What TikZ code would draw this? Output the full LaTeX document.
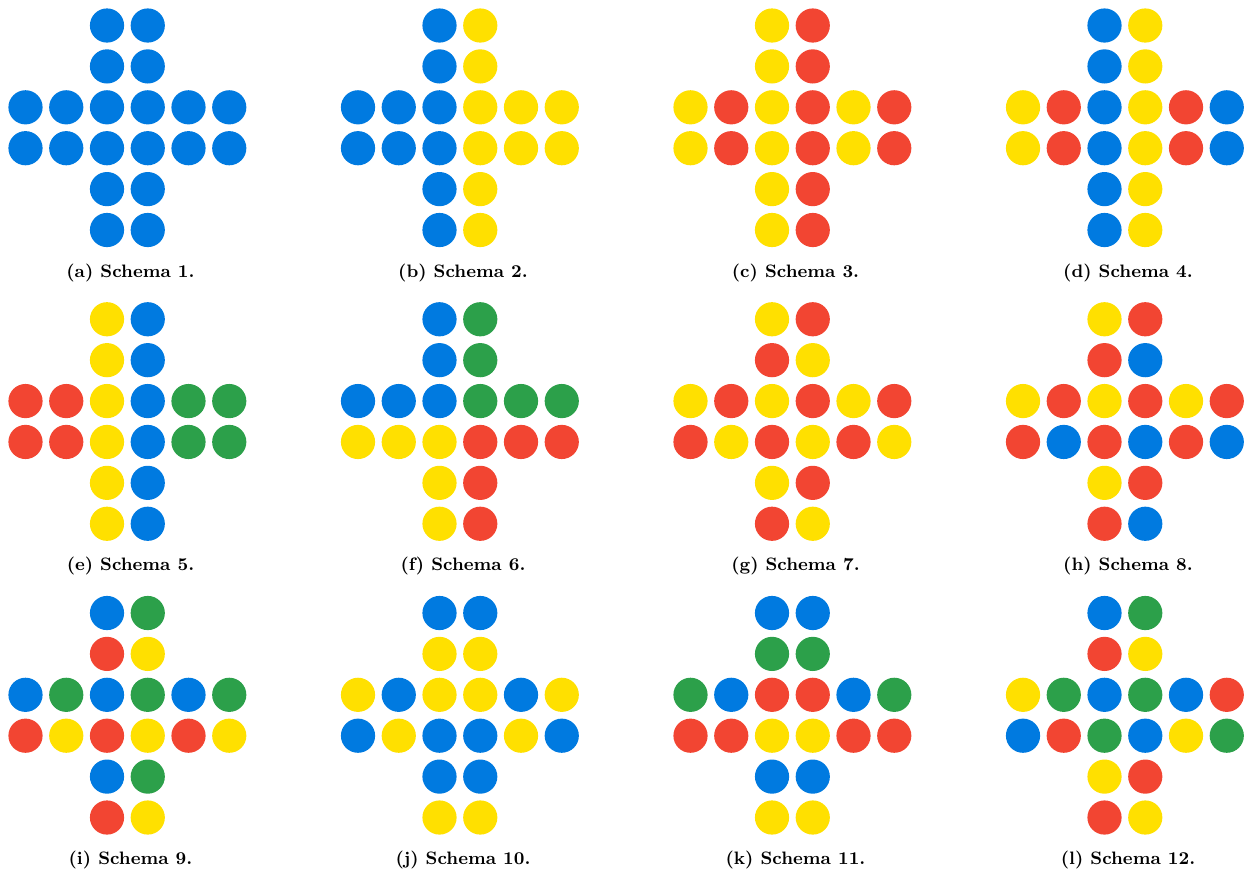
\documentclass[tikz,border=0pt]{standalone}
\definecolor{cB}{RGB}{0,122,224}
\definecolor{cY}{RGB}{255,224,0}
\definecolor{cR}{RGB}{242,69,50}
\definecolor{cG}{RGB}{44,160,74}
\tikzset{
  dot/.style={circle,inner sep=0pt,minimum size=17.1pt,draw=none},
  captext/.style={font=\fontsize{9}{11}\selectfont\bfseries,inner sep=0pt}
}
% #1 panel id, #2 row, #3 first column, #4 colours
\newcommand{\crossrow}[4]{%
  \foreach \c [count=\k from #3] in {#4} {%
    \node[dot,fill=\c] (p#1r#2c\k) at ({\PX+(\k-1)*40.75},{\PY+(#2-1)*40.9}) {};
  }}
% #1 id, #2 x of first column, #3 y of first row, #4..#9 rows
\newcommand{\panel}[9]{%
  \def\PX{#2}\def\PY{#3}%
  \crossrow{#1}{1}{3}{#4}%
  \crossrow{#1}{2}{3}{#5}%
  \crossrow{#1}{3}{1}{#6}%
  \crossrow{#1}{4}{1}{#7}%
  \crossrow{#1}{5}{3}{#8}%
  \crossrow{#1}{6}{3}{#9}%
}
\begin{document}
\begin{tikzpicture}[x=0.5pt,y=-0.5pt]
\useasboundingbox (0,0) rectangle (1245,874);
% row 1
\panel{a}{25.5}{25.5}{cB,cB}{cB,cB}{cB,cB,cB,cB,cB,cB}{cB,cB,cB,cB,cB,cB}{cB,cB}{cB,cB}
\panel{b}{358}{25.5}{cB,cY}{cB,cY}{cB,cB,cB,cY,cY,cY}{cB,cB,cB,cY,cY,cY}{cB,cY}{cB,cY}
\panel{c}{690.5}{25.5}{cY,cR}{cY,cR}{cY,cR,cY,cR,cY,cR}{cY,cR,cY,cR,cY,cR}{cY,cR}{cY,cR}
\panel{d}{1023}{25.5}{cB,cY}{cB,cY}{cY,cR,cB,cY,cR,cB}{cY,cR,cB,cY,cR,cB}{cB,cY}{cB,cY}
% row 2
\panel{e}{25.5}{319.25}{cY,cB}{cY,cB}{cR,cR,cY,cB,cG,cG}{cR,cR,cY,cB,cG,cG}{cY,cB}{cY,cB}
\panel{f}{358}{319.25}{cB,cG}{cB,cG}{cB,cB,cB,cG,cG,cG}{cY,cY,cY,cR,cR,cR}{cY,cR}{cY,cR}
\panel{g}{690.5}{319.25}{cY,cR}{cR,cY}{cY,cR,cY,cR,cY,cR}{cR,cY,cR,cY,cR,cY}{cY,cR}{cR,cY}
\panel{h}{1023}{319.25}{cY,cR}{cR,cB}{cY,cR,cY,cR,cY,cR}{cR,cB,cR,cB,cR,cB}{cY,cR}{cR,cB}
% row 3
\panel{i}{25.5}{613}{cB,cG}{cR,cY}{cB,cG,cB,cG,cB,cG}{cR,cY,cR,cY,cR,cY}{cB,cG}{cR,cY}
\panel{j}{358}{613}{cB,cB}{cY,cY}{cY,cB,cY,cY,cB,cY}{cB,cY,cB,cB,cY,cB}{cB,cB}{cY,cY}
\panel{k}{690.5}{613}{cB,cB}{cG,cG}{cG,cB,cR,cR,cB,cG}{cR,cR,cY,cY,cR,cR}{cB,cB}{cY,cY}
\panel{l}{1023}{613}{cB,cG}{cR,cY}{cY,cG,cB,cG,cB,cR}{cB,cR,cG,cB,cY,cG}{cY,cR}{cR,cY}
% captions
\node[captext] (cap-a) at (130.5,272.5) {(a) Schema 1.};
\node[captext] (cap-b) at (463,272.5) {(b) Schema 2.};
\node[captext] (cap-c) at (795.5,272.5) {(c) Schema 3.};
\node[captext] (cap-d) at (1128,272.5) {(d) Schema 4.};
\node[captext] (cap-e) at (130.5,566.25) {(e) Schema 5.};
\node[captext] (cap-f) at (463,566.25) {(f) Schema 6.};
\node[captext] (cap-g) at (795.5,566.25) {(g) Schema 7.};
\node[captext] (cap-h) at (1128,566.25) {(h) Schema 8.};
\node[captext] (cap-i) at (130.5,860) {(i) Schema 9.};
\node[captext] (cap-j) at (463,860) {(j) Schema 10.};
\node[captext] (cap-k) at (795.5,860) {(k) Schema 11.};
\node[captext] (cap-l) at (1128,860) {(l) Schema 12.};
\end{tikzpicture}
\end{document}
